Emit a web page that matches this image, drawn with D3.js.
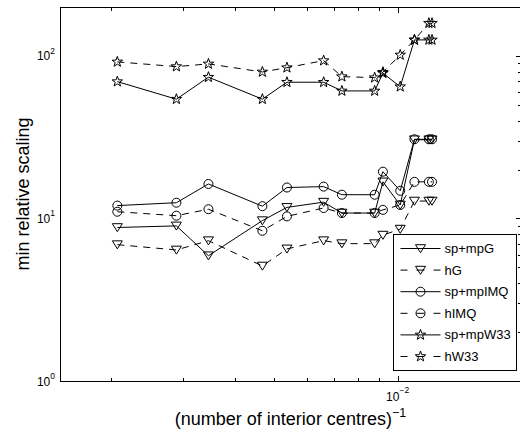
<!DOCTYPE html>
<html>
<head>
<meta charset="utf-8">
<script src="https://cdn.jsdelivr.net/npm/d3@7"></script>
<style>
  html, body { margin: 0; padding: 0; background: #fff; }
  svg { display: block; font-family: "Liberation Sans", Arial, Helvetica, sans-serif; }
</style>
</head>
<body>
<svg id="chart" width="520" height="430"></svg>
<script>
// Reciprocal of the number of interior centres for each run
const invCentres = [2.07e-3, 2.885e-3, 3.454e-3, 4.677e-3, 5.369e-3, 6.598e-3, 7.311e-3,
                    8.788e-3, 9.207e-3, 1.0147e-2, 1.099e-2, 1.192e-2, 1.213e-2];

// Minimum relative scaling per method
const spmpG    = [8.8, 9.0, 5.9, 9.7, 11.7, 12.6, 10.8, 10.8, 16.8, 12.1, 30.5, 30.5, 30.5];
const hG       = [6.9, 6.4, 7.3, 5.1, 6.5, 7.3, 7.0, 7.0, 7.9, 8.6, 12.8, 12.8, 12.8];
const spmpIMQ  = [12.0, 12.5, 16.3, 11.9, 15.5, 15.7, 14.0, 14.0, 19.4, 14.8, 30.7, 30.7, 30.7];
const hIMQ     = [11.0, 10.4, 11.4, 8.4, 10.3, 11.6, 10.8, 10.8, 11.3, 12.1, 16.8, 16.8, 16.8];
const spmpW33  = [69.5, 54.2, 74.0, 54.2, 68.9, 68.9, 60.9, 60.9, 78.3, 64.7, 125.5, 125.5, 125.5];
const hW33     = [91.9, 86.0, 89.3, 79.7, 84.7, 93.6, 74.6, 73.5, 79.4, 101.4, 125.5, 159, 159];

const seriesNames = ["sp+mpG", "hG", "sp+mpIMQ", "hIMQ", "sp+mpW33", "hW33"];

// Axis ticks
const xMajorTicks = [1e-2];
const xMinorTicks = [2e-3, 3e-3, 4e-3, 5e-3, 6e-3, 7e-3, 8e-3, 9e-3];
const yMajorTicks = [1, 10, 100];
const yMinorTicks = [2, 3, 4, 5, 6, 7, 8, 9, 20, 30, 40, 50, 60, 70, 80, 90, 200];
const xTickLabels = [{base: "10", exp: "\u22122"}];
const yTickLabels = [{base: "10", exp: "0"}, {base: "10", exp: "1"}, {base: "10", exp: "2"}];

const series = [
  {name: seriesNames[0], values: spmpG,   marker: "tri",    dashed: false},
  {name: seriesNames[1], values: hG,      marker: "tri",    dashed: true},
  {name: seriesNames[2], values: spmpIMQ, marker: "circle", dashed: false},
  {name: seriesNames[3], values: hIMQ,    marker: "circle", dashed: true},
  {name: seriesNames[4], values: spmpW33, marker: "star",   dashed: false},
  {name: seriesNames[5], values: hW33,    marker: "star",   dashed: true}
];

const axL = 60, axR = 521, axT = 7, axB = 381;
const svg = d3.select("#chart");

const x = d3.scaleLog().domain([1.5e-3, 2e-2]).range([axL, axR]);
const y = d3.scaleLog().domain([1, 200]).range([axB, axT]);

// Marker shapes
function starPath(R) {
  const r = R * 0.4;
  let p = "";
  for (let i = 0; i < 10; i++) {
    const a = -Math.PI / 2 + i * Math.PI / 5;
    const rr = i % 2 === 0 ? R : r;
    p += (i === 0 ? "M" : "L") + (rr * Math.cos(a)).toFixed(2) + "," + (rr * Math.sin(a)).toFixed(2);
  }
  return p + "Z";
}
const markerPaths = {
  tri: "M-5,-3.8L5,-3.8L0,4.2Z",
  circle: d3.arc()({innerRadius: 0, outerRadius: 4.5, startAngle: 0, endAngle: 2 * Math.PI}),
  star: starPath(5.5)
};

// Axes frame
const frame = svg.append("g").attr("stroke", "#000").attr("stroke-width", 1).attr("fill", "none");
frame.append("line").attr("x1", axL).attr("x2", axR).attr("y1", axT + 0.5).attr("y2", axT + 0.5);
frame.append("line").attr("x1", axL).attr("x2", axR).attr("y1", axB + 0.5).attr("y2", axB + 0.5);
frame.append("line").attr("x1", axL + 0.5).attr("x2", axL + 0.5).attr("y1", axT).attr("y2", axB + 1);
frame.append("line").attr("x1", axR + 0.5).attr("x2", axR + 0.5).attr("y1", axT).attr("y2", axB + 1);

function tickAxis(gen, scale, vals, size, transform) {
  const g = svg.append("g").attr("transform", transform)
    .call(gen(scale).tickValues(vals).tickSize(size).tickFormat(""));
  g.select(".domain").remove();
  g.selectAll(".tick line").attr("stroke", "#000").attr("shape-rendering", "crispEdges");
  return g;
}
// bottom ticks (inward)
tickAxis(d3.axisBottom, x, xMinorTicks, -3, `translate(0,${axB})`);
tickAxis(d3.axisBottom, x, xMajorTicks, -5, `translate(0,${axB})`);
// top ticks (inward)
tickAxis(d3.axisTop, x, xMinorTicks, -3, `translate(0,${axT + 1})`);
tickAxis(d3.axisTop, x, xMajorTicks, -5, `translate(0,${axT + 1})`);
// right ticks (inward)
tickAxis(d3.axisRight, y, yMinorTicks, -3, `translate(${axR},0)`);
tickAxis(d3.axisRight, y, yMajorTicks, -5, `translate(${axR},0)`);

// Tick labels with exponents
const xl = svg.append("g").attr("font-size", 12).attr("fill", "#000");
xMajorTicks.forEach((v, i) => {
  const t = xl.append("text").attr("x", x(v)).attr("y", axB + 20).attr("text-anchor", "middle");
  t.append("tspan").text(xTickLabels[i].base);
  t.append("tspan").attr("font-size", 8.5).attr("dy", -8).text(xTickLabels[i].exp);
});
const yl = svg.append("g").attr("font-size", 12).attr("fill", "#000");
yMajorTicks.forEach((v, i) => {
  const t = yl.append("text").attr("x", axL - 5).attr("y", y(v) + 4.5).attr("text-anchor", "end");
  t.append("tspan").text(yTickLabels[i].base);
  t.append("tspan").attr("font-size", 8.5).attr("dy", -6.5).text(yTickLabels[i].exp);
});

// Axis titles
const xt = svg.append("text").attr("x", (axL + axR) / 2).attr("y", 425)
  .attr("text-anchor", "middle").attr("font-size", 18);
xt.append("tspan").text("(number of interior centres)");
xt.append("tspan").attr("font-size", 12.5).attr("dy", -8.5).text("\u22121");

svg.append("text").attr("transform", `translate(29,${(axT + axB) / 2}) rotate(-90)`)
  .attr("text-anchor", "middle").attr("font-size", 18).text("min relative scaling");

// Series lines and markers
const line = d3.line().x((d, i) => x(invCentres[i])).y(d => y(d));
const plot = svg.append("g");
series.forEach(s => {
  plot.append("path").datum(s.values).attr("d", line)
    .attr("fill", "none").attr("stroke", "#000").attr("stroke-width", 1)
    .attr("stroke-dasharray", s.dashed ? "7,6" : null);
});
series.forEach(s => {
  plot.append("g").selectAll("path").data(s.values).join("path")
    .attr("transform", (d, i) => `translate(${x(invCentres[i])},${y(d)})`)
    .attr("d", markerPaths[s.marker])
    .attr("fill", "none").attr("stroke", "#000").attr("stroke-width", 1);
});

// Legend
const lg = svg.append("g");
const lgX = 393.5, lgY = 234.5, lgW = 123, lgH = 136, rowH = 21.6;
lg.append("rect").attr("x", lgX).attr("y", lgY).attr("width", lgW).attr("height", lgH)
  .attr("fill", "#fff").attr("stroke", "#000").attr("stroke-width", 1);
series.forEach((s, i) => {
  const ry = lgY + 14 + i * rowH;
  lg.append("line").attr("x1", lgX + 7).attr("x2", lgX + 47).attr("y1", ry).attr("y2", ry)
    .attr("stroke", "#000").attr("stroke-width", 1)
    .attr("stroke-dasharray", s.dashed ? "7,9,8,9,7" : null);
  lg.append("path").attr("transform", `translate(${lgX + 27},${ry})`)
    .attr("d", markerPaths[s.marker]).attr("fill", "none").attr("stroke", "#000").attr("stroke-width", 1);
  lg.append("text").attr("x", lgX + 51).attr("y", ry + 4.5).attr("font-size", 13).text(s.name);
});
</script>
</body>
</html>
